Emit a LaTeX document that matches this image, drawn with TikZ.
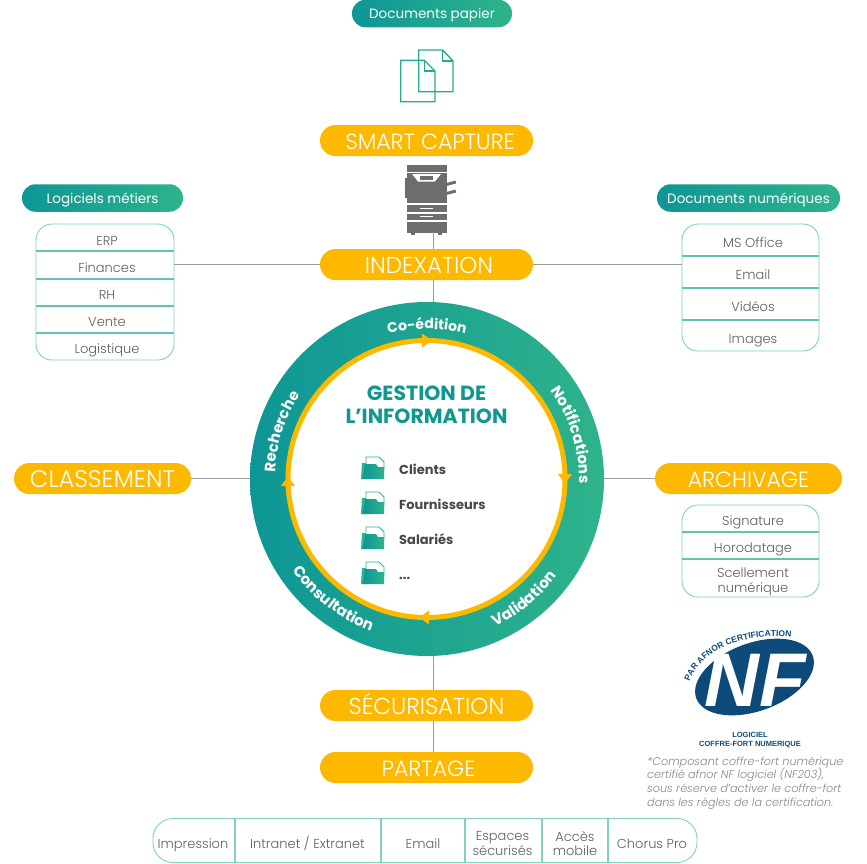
\documentclass[tikz,border=0pt]{standalone}
\usepackage{fontspec}
\usepackage{tikz}
\usepackage{xcolor}
\usetikzlibrary{shapes,shapes.geometric,decorations.text,calc}
\setmainfont{Poppins}
\newfontfamily\logofont{Liberation Sans}
\newfontfamily\lightfont[UprightFont=* Light,ItalicFont=* Light Italic]{Poppins}
\definecolor{tealdark}{RGB}{14,150,150}
\definecolor{tealgreen}{RGB}{46,179,139}
\definecolor{tealtext}{RGB}{17,152,142}
\definecolor{pillyellow}{RGB}{253,185,0}
\definecolor{tableline}{RGB}{130,208,196}
\definecolor{rowline}{RGB}{96,196,181}
\definecolor{linkgray}{RGB}{155,155,155}
\definecolor{printgray}{RGB}{109,109,109}
\definecolor{celltext}{RGB}{95,95,95}
\definecolor{listtext}{RGB}{72,72,72}
\definecolor{nfblue}{RGB}{13,74,122}
\definecolor{notegray}{RGB}{135,135,135}
\newcommand{\fsize}[1]{\fontsize{#1}{#1}\selectfont}
\newcommand{\listdots}{...}
\tikzset{
    pillbox/.style={fill=pillyellow, rounded corners=15.5pt, minimum height=31pt, inner sep=0pt,
        text=white, font=\lightfont\fsize{22}, text height=17.5pt, text depth=0pt},
    headbox/.style={left color=tealdark, right color=tealgreen, rounded corners=13.5pt, minimum height=27.5pt,
        inner sep=0pt, text=white, font=\fsize{13.5}, text height=10pt, text depth=0pt},
    tablebox/.style={draw=tableline, line width=0.9pt, fill=white, rounded corners=16pt, inner sep=0pt},
    rowsep/.style={draw=rowline, line width=1.1pt},
    cell/.style={text=celltext, font=\lightfont\fsize{13}, inner sep=0pt, align=center, text height=10pt, text depth=0pt},
    cellb/.style={text=celltext, font=\lightfont\fsize{13}, inner sep=0pt, align=center},
    link/.style={draw=linkgray, line width=1pt},
    arcword/.style 2 args={decorate, decoration={text along path, text align=center, text color=white,
        text format delimiters={|}{|}, text={|\bfseries\fsize{#1}|#2}}},
}

\begin{document}
\begin{tikzpicture}[x=1pt,y=-1pt]
    \useasboundingbox (0,0) rectangle (867,863);

    % Head pills
    \node[headbox, minimum width=160pt] (papier) at (432,13.5) {Documents papier};
    \node[headbox, minimum width=161pt] (metiers) at (102.5,198) {Logiciels métiers};
    \node[headbox, minimum width=183pt] (numeriques) at (748.5,198) {Documents numériques};

    % Yellow pills
    \node[pillbox, minimum width=213pt] (capture) at (426.5,140.5) {\hspace*{7pt}SMART CAPTURE};
    \node[pillbox, minimum width=213pt, font=\lightfont\fsize{23}] (indexation) at (426.5,264.5) {\hspace*{5pt}INDEXATION};
    \node[pillbox, minimum width=177pt, font=\lightfont\fsize{24}] (classement) at (102.5,478.5) {CLASSEMENT};
    \node[pillbox, minimum width=187pt] (archivage) at (748.5,478.5) {ARCHIVAGE};
    \node[pillbox, minimum width=213pt, font=\lightfont\fsize{23}] (securisation) at (426.5,705.5) {SÉCURISATION};
    \node[pillbox, minimum width=213pt] (partage) at (426.5,767.5) {\hspace*{4pt}PARTAGE};

    % Paper documents
    \begin{scope}[draw=tealgreen!70!tealdark, line width=1.4pt, line join=miter]
        \draw (418.7,50) -- (442.7,50) -- (453,61) -- (453,91.7) -- (418.7,91.7) -- cycle;
        \draw (442.7,50) -- (442.7,61) -- (453,61);
        \draw (400.7,60.3) -- (424.3,60.3) -- (435,71) -- (435,101.7) -- (400.7,101.7) -- cycle;
        \draw (424.3,60.3) -- (424.3,71) -- (435,71);
    \end{scope}

    % Printer
    \begin{scope}[printgray]
        \fill (406.5,164.5) rectangle (446.5,171.5);
        \fill (406.5,173) rectangle (446.5,202.5);
        \fill (404.5,178) rectangle (406.5,197.5);
        \fill (446.5,183) -- (455.5,180.5) -- (456,183.5) -- (446.5,186) -- cycle;
        \fill (446.5,192) -- (455.5,189.5) -- (456,192.5) -- (446.5,195) -- cycle;
        \fill (406.5,205) rectangle (446.5,212);
        \fill (406.5,213.5) rectangle (446.5,220);
        \fill (406.5,221.5) rectangle (446.5,232.5);
        \fill (411,232.5) rectangle (415,234.5);
        \fill (438,232.5) rectangle (442,234.5);
        \fill[white] (412,174) -- (441,174) -- (435,181.5) -- (418,181.5) -- cycle;
        \fill (420,175.5) rectangle (432.5,180);
        \fill[white] (420,207.8) rectangle (433,209);
        \fill[white] (420,216.2) rectangle (433,217.4);
    \end{scope}
    \coordinate (axis) at (433,232);

    % Cycle around the information
    \node[circle, left color=tealdark, right color=tealgreen, minimum size=354pt, inner sep=0pt] (gestion) at (427,479) {};
    \draw[pillyellow, line width=5pt, fill=white] (426.5,479) circle (138.5pt);
    \foreach \ang/\px/\py in {0/426/340.5, -90/565/478, 180/425/617.5, 90/288/482}
        \fill[pillyellow, shift={(\px,\py)}, rotate=\ang] (-4pt,7pt) -- (6pt,0pt) -- (-4pt,-7pt) -- cycle;

    \path[arcword={14}{Co-édition}] (gestion.center) ++(120:150pt) arc[start angle=120, end angle=60, radius=150pt];
    \path[arcword={15}{Notifications}] (gestion.center) ++(50:152pt) arc[start angle=50, end angle=-16, radius=152pt];
    \path[arcword={15}{Recherche}] (gestion.center) ++(195:152pt) arc[start angle=195, end angle=129, radius=152pt];
    \path[arcword={15}{Validation}] (gestion.center) ++(-80:162pt) arc[start angle=-80, end angle=-22, radius=162pt];
    \path[arcword={15}{Consultation}] (gestion.center) ++(195:162pt) arc[start angle=195, end angle=269, radius=162pt];

    \node[text=tealtext, font=\bfseries\fsize{20.5}, inner sep=0pt] (titre1) at (426.5,393) {GESTION DE};
    \node[text=tealtext, font=\bfseries\fsize{20.5}, inner sep=0pt] (titre2) at (426.5,416) {L’INFORMATION};

    % Folder list
    \foreach \ypos/\lab/\id in {456/Clients/clients, 491/Fournisseurs/fournisseurs, 526/Salariés/salaries, 561/\listdots/autres} {
        \begin{scope}[shift={(361,\ypos)}]
            \fill[tealgreen] (0,23) -- (1,7) -- (6,7) -- (6,23) -- cycle;
            \draw[tealgreen, line width=0.8pt, fill=white] (5,1) -- (18,1) -- (23,6) -- (23,14) -- (5,14) -- cycle;
            \shade[left color=tealdark, right color=tealgreen] (2,23) -- (4,8) -- (15,8) -- (17,11) -- (23,11) -- (23,23) -- cycle;
        \end{scope}
        \node[anchor=west, text=listtext, font=\bfseries\fsize{13}, inner sep=0pt, text height=10pt, text depth=0pt] (\id) at (399,\ypos+13) {\lab};
    }

    % Software table
    \node[tablebox, minimum width=138pt, minimum height=136pt] (logiciels) at (105,292) {};
    \foreach \ypos in {251,279,306,333}
        \draw[rowsep] (36,\ypos) -- (174,\ypos);
    \foreach \lab/\ypos/\id in {ERP/240/erp, Finances/267/finances, RH/294/rh, Vente/321/vente, Logistique/348/logistique}
        \node[cell] (\id) at (107,\ypos) {\lab};

    % Digital table
    \node[tablebox, minimum width=137pt, minimum height=127pt] (formats) at (750.5,287.5) {};
    \foreach \ypos in {256,288,320}
        \draw[rowsep] (682,\ypos) -- (819,\ypos);
    \foreach \lab/\ypos/\id in {MS Office/242/office, Email/274/mail, Vidéos/306/videos, Images/338/images}
        \node[cell] (\id) at (753,\ypos) {\lab};

    % Archive table
    \node[tablebox, minimum width=137pt, minimum height=92pt] (preuves) at (750.5,551) {};
    \foreach \ypos in {532,559}
        \draw[rowsep] (682,\ypos) -- (819,\ypos);
    \node[cell] (signature) at (753,520) {Signature};
    \node[cell] (horodatage) at (753,547) {Horodatage};
    \node[cellb] (scellement) at (753,582) {Scellement\\[1.5pt]numérique};

    % Output table
    \node[tablebox, rounded corners=20pt, minimum width=544pt, minimum height=44pt] (sorties) at (425,840.5) {};
    \foreach \xpos in {235,381,465,542,608}
        \draw[rowsep, draw=tableline] (\xpos,818.5) -- (\xpos,862.5);
    \node[cell] (impression) at (193,843) {Impression};
    \node[cell] (intranet) at (307.5,843) {Intranet / Extranet};
    \node[cell] (mailb) at (423,843) {Email};
    \node[cellb] (espaces) at (502.5,843.5) {Espaces\\[1.5pt]sécurisés};
    \node[cellb] (acces) at (575,843.5) {Accès\\[1.5pt]mobile};
    \node[cell] (chorus) at (652,843) {Chorus Pro};

    % Links
    \draw[link] (axis) -- (axis |- indexation.north);
    \draw[link] (axis |- indexation.south) -- (axis |- gestion.north);
    \draw[link] (axis |- gestion.south) -- (axis |- securisation.north);
    \draw[link] (axis |- securisation.south) -- (axis |- partage.north);
    \draw[link] (logiciels.east |- indexation.west) -- (indexation.west);
    \draw[link] (indexation.east) -- (formats.west |- indexation.east);
    \draw[link] (classement.east) -- (gestion.west |- classement.east);
    \draw[link] (gestion.east |- archivage.west) -- (archivage.west);

    % NF logo
    \node[ellipse, fill=nfblue, minimum width=124pt, minimum height=68pt, inner sep=0pt, rotate=20] (nflogo) at (754.5,677) {};
    \node[text=white, font=\logofont\bfseries\itshape\fsize{76}, inner sep=0pt] (nf) at (755,680) {NF};
    \path[decorate, decoration={text along path, text align=center, text color=nfblue,
        text format delimiters={|}{|}, text={|\logofont\bfseries\fsize{8.5}|PAR AFNOR CERTIFICATION}}]
        (688,686) .. controls (696,655) and (738,630) .. (796,638);
    \node[text=nfblue, font=\logofont\bfseries\fsize{7.5}, inner sep=0pt, align=center] (nfnote) at (750,740) {LOGICIEL\\[1pt]COFFRE-FORT NUMERIQUE};

    % Footnote
    \foreach \lab/\ypos/\id in {*Composant coffre-fort numérique/762/noteA, {certifié afnor NF logiciel (NF203),}/775.5/noteB, sous réserve d’activer le coffre-fort/789/noteC, dans les règles de la certification./803/noteD}
        \node[anchor=west, text=notegray, font=\lightfont\itshape\fsize{11.2}, inner sep=0pt, text height=8pt, text depth=2pt] (\id) at (647,\ypos) {\lab};
\end{tikzpicture}
\end{document}
